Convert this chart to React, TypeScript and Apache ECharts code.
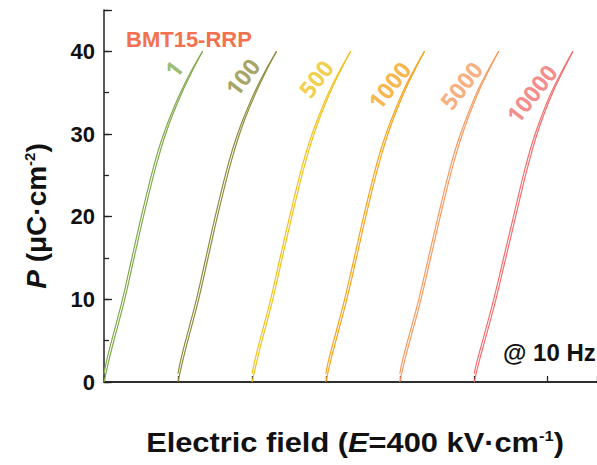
import React, { useEffect, useRef } from "react";
import * as echarts from "echarts";

// Polarization levels (µC·cm⁻²) at which the branches were read
const P_UP = [0, 2.5, 5, 10, 15, 20, 25, 28, 30, 32, 35, 37.5, 40];
const P_DOWN = [1, 2.5, 5, 10, 15, 20, 25, 28, 30, 32, 35, 37.5, 40];

// Electric field (kV·cm⁻¹, curves shifted along the axis) for each cycle count
const E_UP_1 = [0, 19, 40, 84, 122, 160, 201, 229, 250, 274, 316, 356, 400];
const E_DN_1 = [0, 10, 31, 75, 113, 151, 192, 220, 242, 267, 310, 352, 400];
const E_UP_100 = [300, 319, 340, 384, 422, 460, 501, 529, 550, 574, 616, 656, 700];
const E_DN_100 = [300, 310, 331, 375, 413, 451, 492, 520, 542, 567, 610, 652, 700];
const E_UP_500 = [601, 620, 641, 685, 723, 762, 803, 831, 852, 876, 917, 957, 1001];
const E_DN_500 = [601, 611, 632, 676, 714, 753, 794, 822, 844, 869, 911, 953, 1001];
const E_UP_1000 = [900, 919, 941, 985, 1024, 1062, 1103, 1131, 1152, 1176, 1217, 1257, 1300];
const E_DN_1000 = [900, 910, 932, 976, 1015, 1053, 1094, 1122, 1144, 1169, 1211, 1253, 1300];
const E_UP_5000 = [1200, 1219, 1241, 1286, 1325, 1364, 1405, 1433, 1454, 1478, 1518, 1558, 1601];
const E_DN_5000 = [1200, 1210, 1232, 1277, 1316, 1355, 1396, 1424, 1446, 1471, 1512, 1554, 1601];
const E_UP_10000 = [1502, 1522, 1545, 1590, 1630, 1670, 1710, 1737, 1757, 1780, 1820, 1860, 1902];
const E_DN_10000 = [1502, 1513, 1536, 1581, 1621, 1661, 1701, 1728, 1749, 1773, 1814, 1856, 1902];

const CYCLE_LABELS = ["1", "100", "500", "1000", "5000", "10000"];
const LABEL_E = [282, 561, 859, 1157, 1449, 1734];
const LABEL_P = [37.9, 36.9, 36.7, 35.9, 35.9, 34.9];
const COLORS = ["#84aa4e", "#8f8d3e", "#efc21d", "#f5a41e", "#f59b62", "#f26f6f"];

const UP_BRANCHES = [E_UP_1, E_UP_100, E_UP_500, E_UP_1000, E_UP_5000, E_UP_10000];
const DOWN_BRANCHES = [E_DN_1, E_DN_100, E_DN_500, E_DN_1000, E_DN_5000, E_DN_10000];

const Y_TICKS = [0, 10, 20, 30, 40];

const FONT = "'Liberation Sans', Arial, sans-serif";

export default function App() {
  const ref = useRef<HTMLDivElement>(null);

  useEffect(() => {
    if (!ref.current) return;
    const chart = echarts.init(ref.current, undefined, { renderer: "svg" });

    const lineSeries: any[] = [];
    CYCLE_LABELS.forEach((name, i) => {
      lineSeries.push({
        type: "line",
        name: name + " up",
        data: UP_BRANCHES[i].map((e, k) => [e, P_UP[k]]),
        showSymbol: false,
        symbol: "none",
        smooth: 0.4,
        lineStyle: { color: COLORS[i], width: 1.2 },
        z: 3,
      });
      lineSeries.push({
        type: "line",
        name: name + " down",
        data: DOWN_BRANCHES[i].map((e, k) => [e, P_DOWN[k]]),
        showSymbol: false,
        symbol: "none",
        smooth: 0.4,
        lineStyle: { color: COLORS[i], width: 1.2 },
        z: 3,
      });
    });

    const labelSeries = {
      type: "scatter",
      symbolSize: 0,
      data: CYCLE_LABELS.map((t, i) => ({
        value: [LABEL_E[i], LABEL_P[i]],
        label: { color: COLORS[i] },
      })),
      label: {
        show: true,
        position: "inside",
        rotate: 52,
        formatter: (p: any) => CYCLE_LABELS[p.dataIndex],
        fontFamily: "'Open Sans', Arial, sans-serif",
        fontWeight: "bold",
        fontSize: 23,
      },
      z: 4,
      silent: true,
    };

    const richStyles = (size: number) => ({
      b: { fontFamily: FONT, fontWeight: "bold", fontSize: size, fill: "#111" },
      bi: { fontFamily: FONT, fontWeight: "bold", fontStyle: "italic", fontSize: size, fill: "#111" },
      sup: { fontFamily: FONT, fontWeight: "bold", fontSize: 15, fill: "#111", verticalAlign: "top" },
    });

    chart.setOption({
      animation: false,
      grid: { left: 104, right: -10, top: 10, bottom: 83, containLabel: false },
      xAxis: [
        {
          type: "value",
          min: 0,
          max: 2000,
          interval: 300,
          axisLine: { show: true, lineStyle: { color: "#222", width: 1.5 } },
          axisTick: { show: true, inside: true, length: 6, lineStyle: { color: "#222", width: 1.3 } },
          axisLabel: { show: false },
          splitLine: { show: false },
        },
        {
          type: "value",
          position: "top",
          min: 0,
          max: 2000,
          axisLine: { show: true, lineStyle: { color: "#222", width: 1.5 } },
          axisTick: { show: false },
          axisLabel: { show: false },
          splitLine: { show: false },
        },
      ],
      yAxis: [
        {
          type: "value",
          min: 0,
          max: 45,
          interval: 10,
          axisLine: { show: true, lineStyle: { color: "#222", width: 1.5 } },
          axisTick: { show: true, inside: true, length: 8, lineStyle: { color: "#222", width: 1.3 } },
          axisLabel: {
            show: true,
            margin: 9,
            color: "#111",
            fontFamily: FONT,
            fontWeight: "bold",
            fontSize: 22,
            formatter: (v: number) => (Y_TICKS.indexOf(v) >= 0 ? String(v) : ""),
          },
          splitLine: { show: false },
        },
        {
          type: "value",
          position: "left",
          min: 0,
          max: 45,
          interval: 5,
          axisLine: { show: false },
          axisTick: { show: true, inside: true, length: 5, lineStyle: { color: "#222", width: 1.3 } },
          axisLabel: { show: false },
          splitLine: { show: false },
        },
      ],
      series: [...lineSeries, labelSeries],
      graphic: [
        {
          type: "text",
          x: 126,
          y: 39,
          style: {
            text: "BMT15-RRP",
            fill: "#f4714f",
            font: `bold 22px ${FONT}`,
            align: "left",
            verticalAlign: "middle",
          },
        },
        {
          type: "text",
          x: 503,
          y: 352,
          style: {
            text: "@ 10 Hz",
            fill: "#111",
            font: `bold 24px ${FONT}`,
            align: "left",
            verticalAlign: "middle",
          },
        },
        {
          type: "text",
          x: 355,
          y: 442,
          scaleX: 1.1,
          style: {
            text: "{b|Electric field (}{bi|E}{b|=400 kV·cm}{sup|-1}{b|)}",
            align: "center",
            verticalAlign: "middle",
            rich: richStyles(28),
          },
        },
        {
          type: "text",
          x: 36,
          y: 216,
          rotation: Math.PI / 2,
          style: {
            text: "{bi|P}{b| (μC·cm}{sup|-2}{b|)}",
            align: "center",
            verticalAlign: "middle",
            rich: richStyles(28),
          },
        },
      ],
    });

    return () => chart.dispose();
  }, []);

  return (
    <div
      ref={ref}
      style={{ position: "fixed", left: 0, top: 0, width: 597, height: 465, background: "#fff" }}
    />
  );
}
